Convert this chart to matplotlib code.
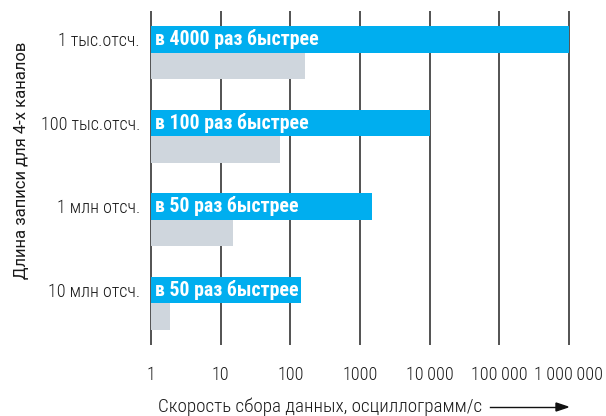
import numpy as np
import matplotlib.pyplot as plt

plt.rcParams['font.family'] = ['Roboto Condensed', 'DejaVu Sans']

categories = ['1 тыс.отсч.', '100 тыс.отсч.', '1 млн отсч.', '10 млн отсч.']
new_rate = [1000000, 10000, 1500, 140]
old_rate = [160, 70, 15, 1.9]
bar_text = ['в 4000 раз быстрее', 'в 100 раз быстрее', 'в 50 раз быстрее', 'в 50 раз быстрее']
xticks = [1, 10, 100, 1000, 10000, 100000, 1000000]
xtick_labels = ['1', '10', '100', '1000', '10\u2009000', '100\u2009000', '1\u2009000\u2009000']

blue = '#00aeef'
grey = '#cfd6dd'
txt_color = '#1a1a1a'

fig = plt.figure(figsize=(6.06, 4.16), dpi=100)
ax = fig.add_axes([151/606, 1-345/416, (569-151)/606, (345-11)/416])

y = np.arange(len(categories))
h = 0.32
ax.set_xscale('log')
ax.set_xlim(1, 1e6)
ax.set_ylim(3.5, -0.5)

# bars start at x=1, so width is value - 1
ax.vlines(xticks, -0.5, 3.5, colors='#444444', linewidth=1.3, zorder=1, clip_on=False)
ax.barh(y - h/2, np.array(new_rate) - 1, height=h, left=1, color=blue, zorder=2)
ax.barh(y + h/2, np.array(old_rate) - 1, height=h, left=1, color=grey, zorder=2)

for i, t in enumerate(bar_text):
    ax.annotate(t, xy=(1, y[i] - h/2), xytext=(3, 0), textcoords='offset points',
                va='center', ha='left', color='white', fontsize=14.3, fontweight='bold', zorder=3)

for s in ax.spines.values():
    s.set_visible(False)

ax.set_xticks(xticks)
ax.set_xticklabels(xtick_labels, fontsize=13, color=txt_color, fontweight='light')
ax.xaxis.set_minor_locator(plt.NullLocator())
ax.set_yticks(y - h/2)
ax.set_yticklabels(categories, fontsize=13, color=txt_color, fontweight='light')
ax.tick_params(axis='both', length=0)
ax.tick_params(axis='x', pad=15)
ax.tick_params(axis='y', pad=8)

fig.text(22/606, 1-160/416, 'Длина записи для 4-х каналов', rotation=90,
         ha='center', va='center', fontsize=12, color=txt_color,
         family=['Roboto', 'DejaVu Sans'])
fig.text(158/606, 1-407/416, 'Скорость сбора данных, осциллограмм/с',
         ha='left', va='center', fontsize=13.8, color=txt_color, fontweight='light')
fig.add_artist(plt.Line2D([490/606, 556/606], [1-407/416, 1-407/416], color='#111111', linewidth=1))
fig.patches.append(plt.Polygon([[556/606, 1-403/416], [568/606, 1-407/416], [556/606, 1-411/416]],
                               closed=True, color='#111111', transform=fig.transFigure, figure=fig))

fig.savefig('out.png', dpi=100)
